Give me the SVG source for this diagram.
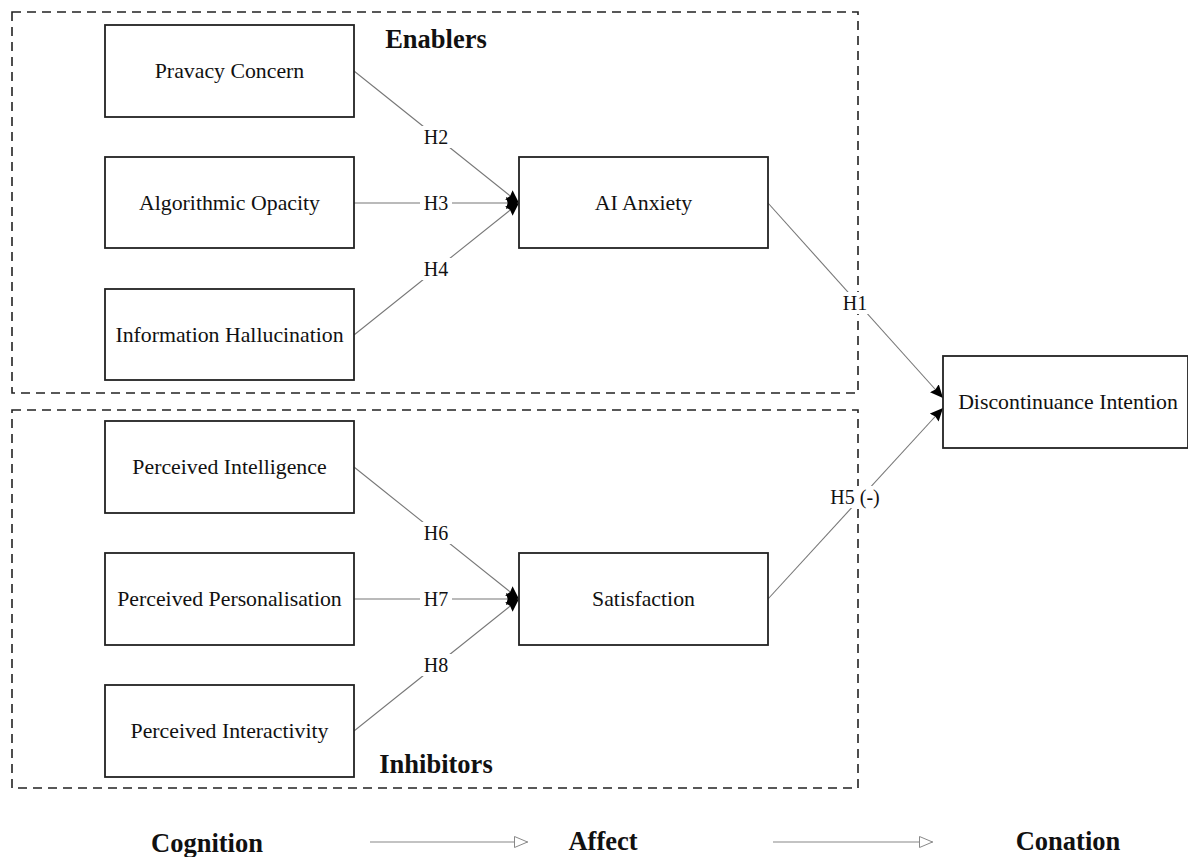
<svg xmlns="http://www.w3.org/2000/svg" width="1188" height="857" viewBox="0 0 1188 857">
<defs>
<style>
.grp{fill:none;stroke:#222;stroke-width:1.6;stroke-dasharray:9,6}
.node rect{fill:#fff;stroke:#222;stroke-width:1.8}
.node text{font-family:"Liberation Serif",serif;font-size:21.8px;fill:#111;text-anchor:middle;dominant-baseline:central}
.conn line{stroke:#777;stroke-width:1.1}
.lbl{font-family:"Liberation Serif",serif;font-size:20px;fill:#111;text-anchor:middle;dominant-baseline:central}
.lblbg{fill:#fff}
.title{font-family:"Liberation Serif",serif;font-size:26.5px;font-weight:bold;fill:#111;text-anchor:middle}
.flow line{stroke:#888;stroke-width:1.1}
</style>
<marker id="ah" viewBox="0 0 12 12" refX="12" refY="6" markerWidth="13" markerHeight="13" markerUnits="userSpaceOnUse" orient="auto">
<path d="M0,0.5 L12,6 L0,11.5 L1.5,6 Z" fill="#000"/>
</marker>
<marker id="oh" viewBox="0 0 14 12" refX="14" refY="6" markerWidth="14" markerHeight="12" markerUnits="userSpaceOnUse" orient="auto">
<path d="M0.5,0.5 L13.5,6 L0.5,11.5 Z" fill="#fff" stroke="#888" stroke-width="1"/>
</marker>
</defs>
<rect width="1188" height="857" fill="#fff"/>
<g id="groups">
<rect class="grp" x="12" y="12" width="846" height="381"/>
<rect class="grp" x="12" y="410" width="846" height="378"/>
<text class="title" x="436" y="48">Enablers</text>
<text class="title" x="436" y="773">Inhibitors</text>
</g>
<g id="connectors" class="conn">
<line x1="354" y1="71" x2="519" y2="203" marker-end="url(#ah)"/>
<line x1="354" y1="203" x2="519" y2="203" marker-end="url(#ah)"/>
<line x1="354" y1="335" x2="519" y2="203" marker-end="url(#ah)"/>
<line x1="354" y1="467" x2="519" y2="599" marker-end="url(#ah)"/>
<line x1="354" y1="599" x2="519" y2="599" marker-end="url(#ah)"/>
<line x1="354" y1="731" x2="519" y2="599" marker-end="url(#ah)"/>
<line x1="768" y1="203" x2="943" y2="398" marker-end="url(#ah)"/>
<line x1="768" y1="599" x2="943" y2="408" marker-end="url(#ah)"/>
<rect class="lblbg" x="420" y="126" width="32" height="22"/>
<text class="lbl" x="436" y="137">H2</text>
<rect class="lblbg" x="420" y="192" width="32" height="22"/>
<text class="lbl" x="436" y="203">H3</text>
<rect class="lblbg" x="420" y="258" width="32" height="22"/>
<text class="lbl" x="436" y="269">H4</text>
<rect class="lblbg" x="420" y="522" width="32" height="22"/>
<text class="lbl" x="436" y="533">H6</text>
<rect class="lblbg" x="420" y="588" width="32" height="22"/>
<text class="lbl" x="436" y="599">H7</text>
<rect class="lblbg" x="420" y="654" width="32" height="22"/>
<text class="lbl" x="436" y="665">H8</text>
<rect class="lblbg" x="840" y="292" width="30" height="22"/>
<text class="lbl" x="855" y="303">H1</text>
<rect class="lblbg" x="831" y="486" width="48" height="22"/>
<text class="lbl" x="855" y="497">H5 (-)</text>
</g>
<g id="n-privacy" class="node"><rect x="105" y="25" width="249" height="92"/><text x="229.5" y="71">Pravacy Concern</text></g>
<g id="n-opacity" class="node"><rect x="105" y="157" width="249" height="91"/><text x="229.5" y="203">Algorithmic Opacity</text></g>
<g id="n-halluc" class="node"><rect x="105" y="289" width="249" height="91"/><text x="229.5" y="335">Information Hallucination</text></g>
<g id="n-intel" class="node"><rect x="105" y="421" width="249" height="92"/><text x="229.5" y="467">Perceived Intelligence</text></g>
<g id="n-person" class="node"><rect x="105" y="553" width="249" height="92"/><text x="229.5" y="599">Perceived Personalisation</text></g>
<g id="n-interact" class="node"><rect x="105" y="685" width="249" height="92"/><text x="229.5" y="731">Perceived Interactivity</text></g>
<g id="n-anxiety" class="node"><rect x="519" y="157" width="249" height="91"/><text x="643.5" y="203">AI Anxiety</text></g>
<g id="n-satisf" class="node"><rect x="519" y="553" width="249" height="92"/><text x="643.5" y="599">Satisfaction</text></g>
<g id="n-disc" class="node"><rect x="943" y="356" width="245" height="92"/><text x="1068" y="402">Discontinuance Intention</text></g>
<g id="flow" class="flow">
<text class="title" x="207" y="852">Cognition</text>
<line x1="370" y1="842" x2="528" y2="842" marker-end="url(#oh)"/>
<text class="title" x="603" y="850">Affect</text>
<line x1="773" y1="842" x2="933" y2="842" marker-end="url(#oh)"/>
<text class="title" x="1068" y="850">Conation</text>
</g>
</svg>
